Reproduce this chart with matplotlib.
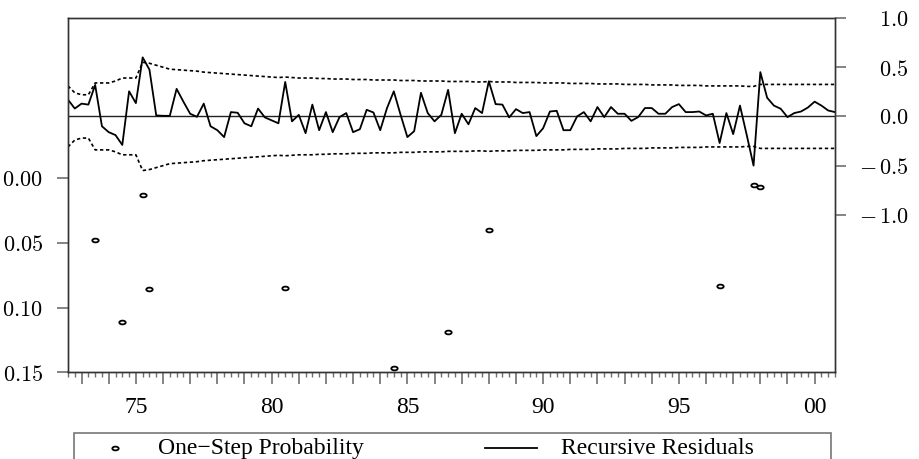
import numpy as np
import pandas as pd
import matplotlib
matplotlib.use('Agg')
import matplotlib.pyplot as plt
from matplotlib.lines import Line2D
from matplotlib.patches import Rectangle
from matplotlib.path import Path
from matplotlib.transforms import Affine2D

plt.rcParams['font.family'] = ['Liberation Serif', 'DejaVu Serif']
plt.rcParams['mathtext.fontset'] = 'cm'

# quarterly sample, recursive residuals and their +/- 2 S.E. band
quarters = pd.period_range('1972Q3', '2000Q4', freq='Q')

resid = [0.17, 0.08, 0.13, 0.12, 0.32, -0.10, -0.16, -0.19, -0.29, 0.255,
         0.135, 0.60, 0.475, 0.01, 0.006, 0.006, 0.28, 0.15, 0.027, -0.004,
         0.13, -0.10, -0.14, -0.21, 0.044, 0.037, -0.07, -0.10, 0.08, -0.01,
         -0.04, -0.07, 0.35, -0.05, 0.016, -0.17, 0.12, -0.14, 0.044, -0.16,
         -0.007, 0.034, -0.16, -0.13, 0.067, 0.04, -0.14, 0.085, 0.255, 0.016,
         -0.21, -0.15, 0.24, 0.034, -0.05, 0.016, 0.27, -0.17, 0.027, -0.08,
         0.085, 0.034, 0.357, 0.125, 0.12, -0.01, 0.074, 0.034, 0.044, -0.20,
         -0.12, 0.05, 0.057, -0.14, -0.14, 0.0, 0.044, -0.05, 0.095, -0.007,
         0.095, 0.027, 0.027, -0.045, -0.007, 0.085, 0.085, 0.027, 0.027, 0.095,
         0.125, 0.044, 0.044, 0.05, 0.01, 0.027, -0.27, 0.034, -0.18, 0.11,
         -0.19, -0.50, 0.45, 0.19, 0.11, 0.078, -0.007, 0.034, 0.05, 0.09,
         0.15, 0.11, 0.06, 0.044]

band = [0.31, 0.24, 0.22, 0.22, 0.34, 0.34, 0.34, 0.36, 0.39, 0.39,
        0.39, 0.55, 0.54, 0.52, 0.50, 0.48, 0.475, 0.47, 0.465, 0.46,
        0.45, 0.445, 0.44, 0.435, 0.43, 0.425, 0.42, 0.415, 0.41, 0.405,
        0.40, 0.395, 0.40, 0.395, 0.39, 0.39, 0.39, 0.385, 0.385, 0.38,
        0.38, 0.38, 0.375, 0.375, 0.375, 0.37, 0.37, 0.37, 0.37, 0.365,
        0.365, 0.365, 0.36, 0.36, 0.36, 0.36, 0.355, 0.355, 0.355, 0.355,
        0.35, 0.35, 0.355, 0.35, 0.35, 0.35, 0.345, 0.345, 0.345, 0.345,
        0.34, 0.34, 0.34, 0.34, 0.335, 0.335, 0.335, 0.335, 0.33, 0.33,
        0.33, 0.33, 0.325, 0.325, 0.325, 0.325, 0.32, 0.32, 0.32, 0.32,
        0.315, 0.315, 0.315, 0.315, 0.31, 0.31, 0.31, 0.31, 0.31, 0.31,
        0.305, 0.305, 0.325, 0.325, 0.325, 0.325, 0.325, 0.325, 0.325, 0.325,
        0.325, 0.325, 0.325, 0.325]

# one-step probabilities (only those below 0.15 are on the chart)
prob_quarters = ['1973Q3', '1974Q3', '1975Q2', '1975Q3', '1980Q3', '1984Q3',
                 '1986Q3', '1988Q1', '1996Q3', '1997Q4', '1998Q1']
prob_values = [0.048, 0.111, 0.013, 0.086, 0.085, 0.147,
               0.119, 0.040, 0.083, 0.0054, 0.0069]


def qx(p):
    return p.year + (p.quarter - 1) / 4


x = np.array([qx(p) for p in quarters])
px = np.array([qx(pd.Period(q, freq='Q')) for q in prob_quarters])
resid = np.array(resid)
band = np.array(band)

# flat little ellipse like the original's probability marker
ellipse = Path.unit_circle().transformed(Affine2D().scale(1.45, 0.85))

W, H = 920, 460
fig = plt.figure(figsize=(9.2, 4.6), dpi=100)
ax = fig.add_axes([68 / W, 1 - 373.3 / H, (835 - 68) / W, (373.3 - 19) / H])
ax2 = ax.twinx()

tick_col = '#707070'

# left axis: probabilities
ax.plot(px, prob_values, linestyle='none', marker=ellipse, ms=4.6, mfc='white',
        mec='black', mew=1.3, clip_on=False, zorder=5)
ax.set_ylim(0.15, -0.1235)
ax.set_yticks([0, 0.05, 0.10, 0.15])
ax.set_yticklabels(['$0.00$', '$0.05$', '$0.10$', '$0.15$'])
ax.tick_params(axis='y', direction='out', length=8, width=1.2, color=tick_col,
               labelsize=16, pad=10)

ax.set_xlim(1972.5, 2000.75)
years = np.arange(1973, 2001)
ax.set_xticks(years)
ax.set_xticklabels([f'{y % 100:02d}' if y % 5 == 0 else '' for y in years])
ax.set_xticks(x, minor=True)
ax.tick_params(axis='x', which='major', direction='out', length=8.4, width=1.2,
               color=tick_col, labelsize=17, pad=9)
ax.tick_params(axis='x', which='minor', direction='out', length=3.6, width=1.0,
               color=tick_col)

# right axis: recursive residuals
ax2.axhline(0, color='#222222', lw=1.0)
ax2.plot(x, band, color='black', lw=1.2, linestyle=(0, (2.0, 1.6)))
ax2.plot(x, -band, color='black', lw=1.2, linestyle=(0, (2.0, 1.6)))
ax2.plot(x, resid, color='black', lw=1.3)
ax2.set_ylim(-2.6, 1.0)
ax2.set_yticks([-1.0, -0.5, 0.0, 0.5, 1.0])
ax2.set_yticklabels(['$-\\,1.0$', '$-\\,0.5$', '$0.0$', '$0.5$', '$1.0$'])
ax2.tick_params(axis='y', direction='out', length=8, width=1.2, color=tick_col,
                labelsize=16, pad=45)
for t in ax2.get_yticklabels():
    t.set_horizontalalignment('right')

for a in (ax, ax2):
    for s in a.spines.values():
        s.set_color('#333333')
        s.set_linewidth(1.0)

# legend box (runs off the bottom edge)
fig.add_artist(Rectangle((74 / W, 1 - 475 / H), (831 - 74) / W, 41 / H,
                         transform=fig.transFigure, fill=False,
                         edgecolor='#777777', lw=1.2, clip_on=False))
ly = 1 - 449 / H
fig.add_artist(Line2D([115 / W], [ly], transform=fig.transFigure, marker=ellipse,
                      ms=4.6, mfc='white', mec='black', mew=1.3, linestyle='none'))
fig.text(158 / W, ly, 'One\u2212Step Probability', fontsize=17, va='center')
fig.add_artist(Line2D([485 / W, 537 / W], [ly, ly], transform=fig.transFigure,
                      color='black', lw=1.3))
fig.text(561 / W, ly, 'Recursive Residuals', fontsize=17, va='center')

fig.savefig('out.png', dpi=100)
